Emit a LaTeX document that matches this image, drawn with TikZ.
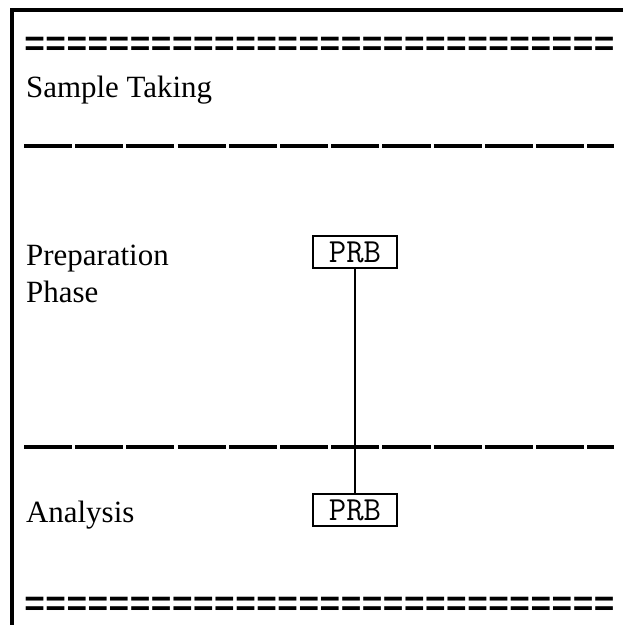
\documentclass[tikz,border=0pt]{standalone}
\usepackage{fontspec}
\setmainfont{Liberation Serif}
\newfontfamily\eqfont{Liberation Mono}
\usetikzlibrary{positioning}

\newcommand{\eqrow}{============================}

\tikzset{
  phase/.style={anchor=base west, inner sep=0pt, font=\fontsize{22}{26}\selectfont},
  prb/.style={draw, line width=1.3pt, font=\ttfamily\fontsize{24}{24}\selectfont,
    minimum width=2.1cm, minimum height=0.82cm, inner sep=1pt},
  sep/.style={line width=2.4pt, dash pattern=on 1.2cm off 0.08cm},
  eqline/.style={anchor=west, inner sep=0pt, font=\eqfont\bfseries\fontsize{25}{25}\selectfont}
}

\begin{document}
\begin{tikzpicture}[x=0.025cm, y=-0.025cm, line width=3pt]
   \useasboundingbox (0,0) rectangle (623,625);

   % frame
   \draw (12,625) -- (12,10) -- (623,10);

   % rows of = and separators
   \node[eqline] (top) at (22,46) {\eqrow};
   \node[eqline] (bottom) at (22,606) {\eqrow};
   \draw[sep] (24,146) -- (614,146);
   \draw[sep] (24,447) -- (614,447);

   % phases
   \node[phase] (sample) at (24,97) {Sample Taking};
   \node[phase] (prep) at (24,265) {Preparation};
   \node[phase] (phase) at (24,302) {Phase};
   \node[phase] (anal) at (24,522) {Analysis};

   % blocks
   \node[prb] (prb1) at (355,252) {PRB};
   \node[prb] (prb2) at (355,510) {PRB};
   \draw[line width=1.3pt] (prb1) -- (prb2);
\end{tikzpicture}
\end{document}
